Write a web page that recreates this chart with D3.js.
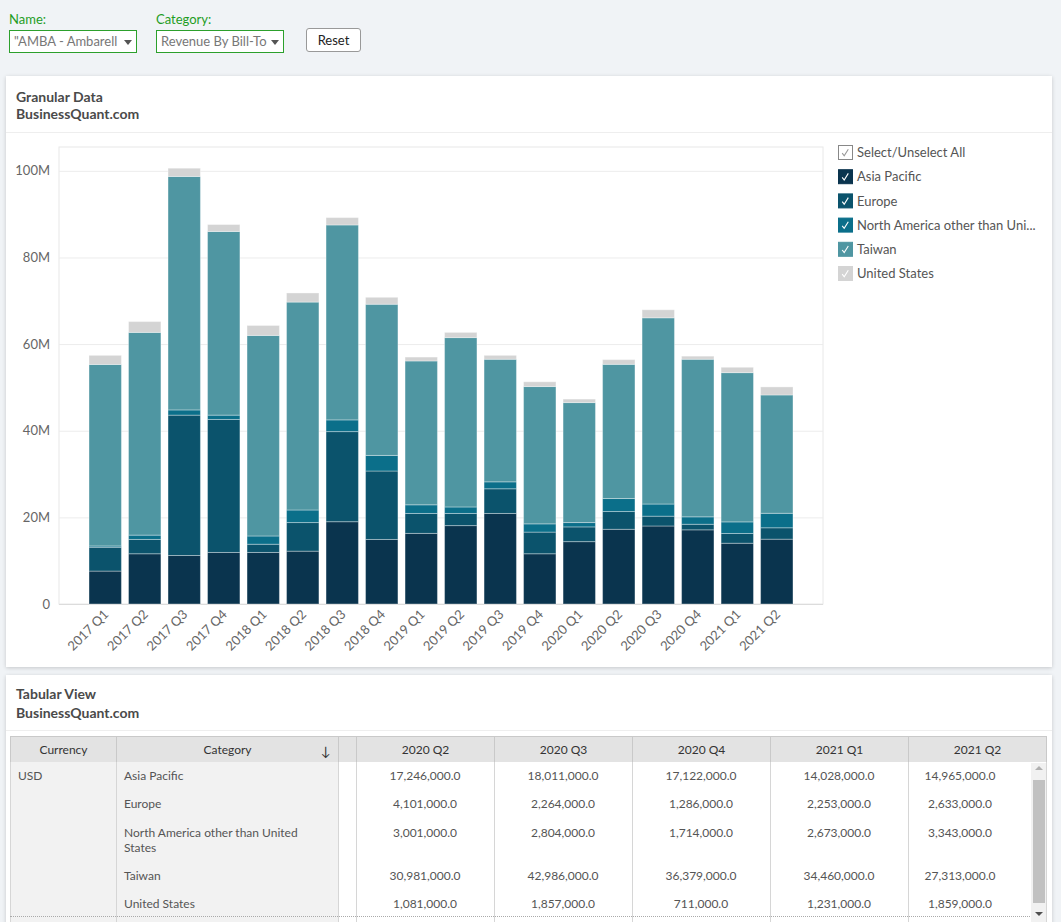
<!DOCTYPE html>
<html><head><meta charset="utf-8">
<script src="https://cdn.jsdelivr.net/npm/d3@7"></script>
<style>
body{margin:0;background:#f0f3f6;font-family:Lato,"Open Sans",sans-serif;width:1061px;height:922px;overflow:hidden;position:relative}
.lbl{position:absolute;color:#1f9d1f;font-size:13px}
.sel{position:absolute;height:21px;width:126px;border:1px solid #2ca02c;background:#fff;color:#777;font-size:13px;line-height:21px;overflow:hidden;white-space:nowrap}
.sel span{position:absolute;left:4px;top:0;width:106px;overflow:hidden}
.sel i{position:absolute;right:4px;top:9px;width:0;height:0;border-left:4.5px solid transparent;border-right:4.5px solid transparent;border-top:5px solid #555}
.btn{position:absolute;left:306px;top:28px;width:53px;height:22px;border:1px solid #999;border-radius:3px;background:#fff;color:#222;font-size:13px;line-height:22px;text-align:center}
.panel{position:absolute;left:6px;width:1046px;background:#fff;box-shadow:0 1px 4px rgba(0,0,0,0.18)}
.ttl{position:absolute;left:10px;font-size:14px;font-weight:bold;color:#4a4a4a;line-height:17px}
.sep{position:absolute;left:0;width:1046px;height:1px;background:#eeeeee}
.cell{position:absolute;box-sizing:border-box;font-size:12px;color:#555;line-height:15px}
svg{position:absolute;left:0;top:0}
</style></head><body>
<div class="lbl" style="left:9px;top:11px">Name:</div>
<div class="sel" style="left:9px;top:30px"><span>"AMBA - Ambarell</span><i></i></div>
<div class="lbl" style="left:156px;top:11px">Category:</div>
<div class="sel" style="left:156px;top:30px"><span>Revenue By Bill-To</span><i></i></div>
<div class="btn">Reset</div>

<div class="panel" style="top:76px;height:591px">
  <div class="ttl" style="top:12px">Granular Data</div>
  <div class="ttl" style="top:29px">BusinessQuant.com</div>
  <div class="sep" style="top:56px"></div>
</div>
<div class="panel" style="top:675px;height:260px">
  <div class="ttl" style="top:10px">Tabular View</div>
  <div class="ttl" style="top:29px">BusinessQuant.com</div>
  <div class="sep" style="top:55px"></div>
</div>
<div id="tbl"></div>
<svg id="chart" width="1061" height="922"></svg>
<script>
// ---- data (values in millions of USD) ----
const quarters = ["2017 Q1","2017 Q2","2017 Q3","2017 Q4","2018 Q1","2018 Q2","2018 Q3","2018 Q4","2019 Q1","2019 Q2","2019 Q3","2019 Q4","2020 Q1","2020 Q2","2020 Q3","2020 Q4","2021 Q1","2021 Q2"];
const seriesNames = ["Asia Pacific","Europe","North America other than United States","Taiwan","United States"];
const legendLabels = ["Asia Pacific","Europe","North America other than Uni...","Taiwan","United States"];
const asiaPacific = [7.6,11.6,11.2,11.9,11.9,12.2,19.0,14.9,16.3,18.1,20.9,11.6,14.4,17.246,18.011,17.122,14.028,14.965];
const europe      = [5.5,3.3,32.4,30.7,1.9,6.6,20.8,15.8,4.6,2.8,5.7,5.0,3.4,4.101,2.264,1.286,2.253,2.633];
const northAmerica= [0.3,1.0,1.2,1.0,1.9,2.9,2.7,3.6,2.0,1.5,1.6,1.9,1.0,3.001,2.804,1.714,2.673,3.343];
const taiwan      = [41.9,46.8,53.9,42.4,46.3,48.0,45.0,34.9,33.2,39.1,28.3,31.7,27.7,30.981,42.986,36.379,34.460,27.313];
const unitedStates= [2.1,2.5,1.9,1.6,2.3,2.1,1.7,1.6,0.9,1.2,0.9,1.1,0.8,1.081,1.857,0.711,1.231,1.859];
const yTicks = [0,20,40,60,80,100];
const yTickLabels = ["0","20M","40M","60M","80M","100M"];
const tableQuarters = ["2020 Q2","2020 Q3","2020 Q4","2021 Q1","2021 Q2"];
const colors = ["#0a344e","#0b536c","#0b6f8a","#4f96a2","#d4d4d4"];

const seriesValues = [asiaPacific, europe, northAmerica, taiwan, unitedStates];
const rows = quarters.map((q,i)=>{const o={q}; seriesNames.forEach((s,k)=>o[s]=seriesValues[k][i]); return o;});
const stack = d3.stack().keys(seriesNames)(rows);

const svg = d3.select("#chart");
const L=59,R=823,T=147,B=604;
const x = d3.scaleBand().domain(quarters).range([L,R]).paddingInner(0.18).paddingOuter(0.76);
const y = d3.scaleLinear().domain([0,105.5]).range([B,T]);

// plot frame & grid
svg.append("rect").attr("x",L).attr("y",T).attr("width",R-L).attr("height",B-T).attr("fill","none").attr("stroke","#e8e8e8");
svg.append("g").selectAll("line").data(yTicks).join("line")
  .attr("x1",L).attr("x2",R).attr("y1",d=>y(d)+0.5).attr("y2",d=>y(d)+0.5)
  .attr("stroke",d=>d===0?"#dcdcdc":"#ececec");

const yAxis = d3.axisLeft(y).tickValues(yTicks).tickFormat((d,i)=>yTickLabels[i]).tickSize(0).tickPadding(9);
const ga = svg.append("g").attr("transform",`translate(${L},0)`).call(yAxis);
ga.select(".domain").remove();
ga.selectAll("text").attr("font-family","Lato").attr("font-size","13px").attr("fill","#666");

// bars
svg.append("g").selectAll("g").data(stack).join("g").attr("fill",(d,i)=>colors[i])
  .selectAll("rect").data(d=>d).join("rect")
  .attr("x",d=>x(d.data.q)).attr("width",x.bandwidth())
  .attr("y",d=>y(d[1])).attr("height",d=>y(d[0])-y(d[1]))
  .attr("stroke","#ffffff").attr("stroke-opacity",0.35).attr("stroke-width",1);

// x labels
const xAxis = d3.axisBottom(x).tickSize(0).tickPadding(0);
const gx = svg.append("g").attr("transform",`translate(0,${B})`).call(xAxis);
gx.select(".domain").remove();
gx.selectAll("text").attr("font-family","Lato").attr("font-size","13px").attr("fill","#666")
  .attr("text-anchor","end").attr("dy","0.35em").attr("y",0)
  .attr("transform","translate(1,8) rotate(-45)");

// legend
const lg = svg.append("g").attr("font-family","Lato").attr("font-size","13px");
const legendItems = [{label:"Select/Unselect All",fill:"#fff",stroke:"#888",check:"#999"}]
  .concat(legendLabels.map((l,i)=>({label:l,fill:colors[i],stroke:colors[i],check:"#fff"})));
const li = lg.selectAll("g").data(legendItems).join("g").attr("transform",(d,i)=>`translate(838,${145+i*24.2})`);
li.append("rect").attr("x",0.5).attr("y",0.5).attr("width",14).attr("height",14).attr("fill",d=>d.fill).attr("stroke",d=>d.stroke);
li.append("path").attr("d","M4.2,8.2 L6.2,10.8 L10.3,4.2").attr("fill","none").attr("stroke",d=>d.check).attr("stroke-width",1.1);
li.append("text").attr("x",19).attr("y",7.5).attr("dy","0.36em").attr("fill","#555").text(d=>d.label);

// ---- table ----
const tbl = d3.select("#tbl");
const cx = [10,116,338,356,494,632,770,908,1046];
const fmt = d3.format(",.1f");
const headers = ["Currency","Category",""].concat(tableQuarters);
headers.forEach((h,i)=>{
  tbl.append("div").attr("class","cell").style("left",cx[i]+"px").style("top","736px")
    .style("width",(cx[i+1]-cx[i]+1)+"px").style("height","27px")
    .style("background","#e3e3e3").style("border","1px solid #c9c9c9")
    .style("color","#333").style("text-align","center").style("line-height","25px").text(h);
});
tbl.append("div").attr("class","cell").style("left","321px").style("top","744px").style("color","#333").style("font-size","13px").text("↓");
// body column backgrounds / lines
for(let i=0;i<8;i++){
  tbl.append("div").attr("class","cell").style("left",cx[i]+"px").style("top","762px")
    .style("width",(cx[i+1]-cx[i]+1)+"px").style("height","160px")
    .style("background",i<2?"#f2f2f2":"#fff").style("border-left","1px solid #d6d6d6").style("border-right","1px solid #d6d6d6");
}
tbl.append("div").attr("class","cell").style("left","10px").style("top","916px").style("width","1036px").style("height","1px").style("border-top","1px dotted #aaa");
const rowCenters = [775,803,832,875,903];
tbl.append("div").attr("class","cell").style("left","18px").style("top",(rowCenters[0]-7.5)+"px").text("USD");
seriesNames.forEach((s,k)=>{
  tbl.append("div").attr("class","cell").style("left","124px").style("width","190px").style("top",(rowCenters[k]-7.5)+"px").text(s);
  tableQuarters.forEach((q,j)=>{
    const v = seriesValues[k][quarters.indexOf(q)]*1e6;
    const w = j===4?104:138;
    tbl.append("div").attr("class","cell").style("left",(cx[3+j])+"px").style("width",w+"px")
      .style("text-align","center").style("top",(rowCenters[k]-7.5)+"px").text(fmt(v));
  });
});
// scrollbar
tbl.append("div").attr("class","cell").style("left","1031px").style("top","763px").style("width","15px").style("height","159px").style("background","#f1f1f1");
tbl.append("div").attr("class","cell").style("left","1033px").style("top","780px").style("width","12px").style("height","123px").style("background","#c1c1c1");
tbl.append("div").attr("class","cell").style("left","1035px").style("top","766px").style("width","0").style("height","0")
  .style("border-left","4px solid transparent").style("border-right","4px solid transparent").style("border-bottom","4px solid #b0b0b0");
tbl.append("div").attr("class","cell").style("left","1035px").style("top","912px").style("width","0").style("height","0")
  .style("border-left","4px solid transparent").style("border-right","4px solid transparent").style("border-top","4px solid #505050");
</script>
</body></html>
